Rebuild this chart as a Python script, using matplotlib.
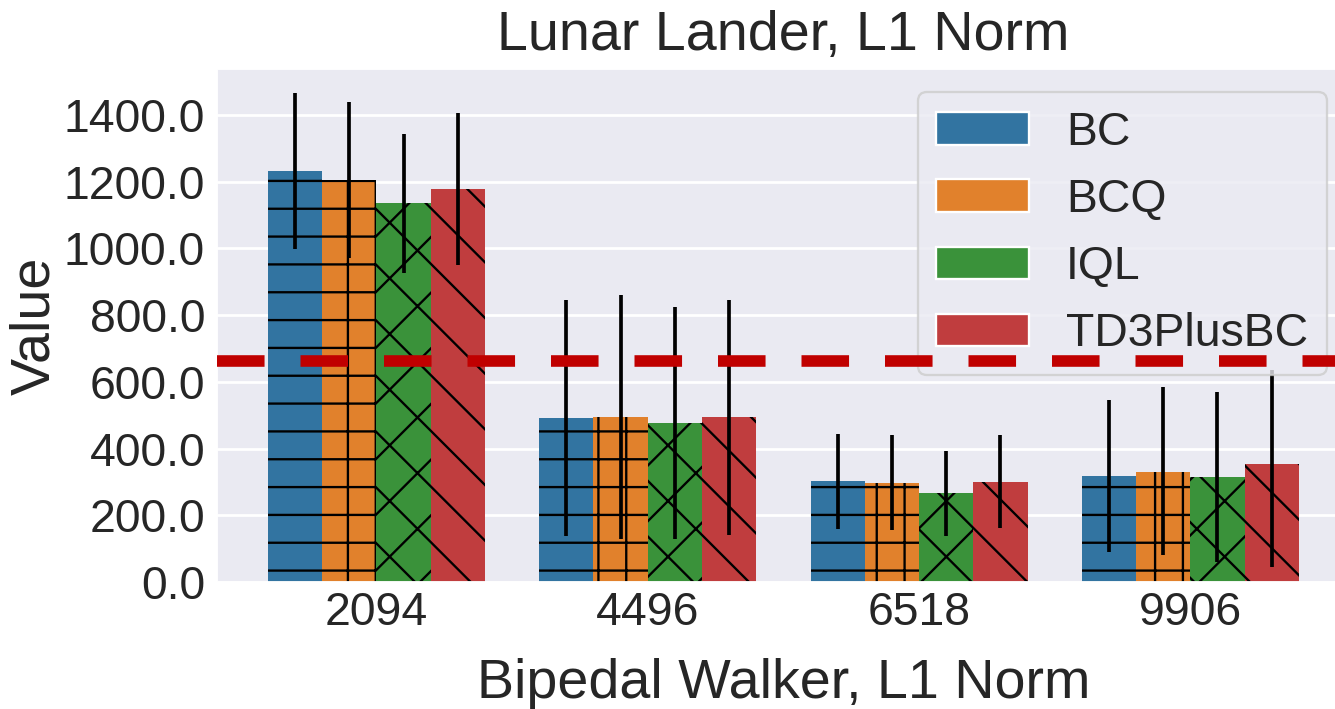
import numpy as np
import matplotlib
matplotlib.use("Agg")
import matplotlib.pyplot as plt
import seaborn as sns
from matplotlib.patches import Patch

# data
seeds = ["2094", "4496", "6518", "9906"]
algos = ["BC", "BCQ", "IQL", "TD3PlusBC"]
colors = ["#3274a1", "#e1812c", "#3a923a", "#c03d3e"]
hatches = ["-", "+", "x", "\\"]

bc_mean = [1232, 491, 302, 318]
bcq_mean = [1205, 495, 298, 331]
iql_mean = [1135, 477, 266, 315]
td3_mean = [1178, 495, 300, 354]

bc_lo = [997, 138, 160, 91]
bc_hi = [1466, 845, 444, 545]
bcq_lo = [970, 129, 156, 81]
bcq_hi = [1440, 860, 440, 584]
iql_lo = [927, 129, 139, 61]
iql_hi = [1343, 825, 394, 570]
td3_lo = [951, 141, 161, 44]
td3_hi = [1406, 845, 440, 637]

threshold = 664

means = [bc_mean, bcq_mean, iql_mean, td3_mean]
lows = [bc_lo, bcq_lo, iql_lo, td3_lo]
highs = [bc_hi, bcq_hi, iql_hi, td3_hi]

sns.set_style("darkgrid")
plt.rcParams['font.family'] = ['Liberation Sans', 'DejaVu Sans']
plt.rcParams['hatch.linewidth'] = 1.0

dpi = 167
fig = plt.figure(figsize=(1335 / dpi, 709 / dpi), dpi=dpi)
# axes runs a little past the right edge of the picture, as in the reference
ax = fig.add_axes([0.1623, 0.1791, 0.849, 0.7236])

x = np.arange(len(seeds))
w = 0.2
for i, name in enumerate(algos):
    pos = x - 0.3 + i * w
    ax.bar(pos, means[i], width=w, color=colors[i], edgecolor="black",
           linewidth=0, hatch=hatches[i], zorder=2)
    ax.vlines(pos, lows[i], highs[i], color="black", linewidth=1.6, zorder=3)

ax.axhline(threshold, color="#c00000", linewidth=5, dashes=(4.1, 3.1), zorder=6)

ax.set_xlim(-0.589, 3.589)
ax.set_ylim(0, 1538)
ax.set_xticks(x)
ax.set_xticklabels(seeds)
ax.set_yticks(np.arange(0, 1401, 200))
ax.set_yticklabels([f"{v:.1f}" for v in np.arange(0, 1401, 200)])
ax.tick_params(axis="x", labelsize=20, pad=0.5)
ax.tick_params(axis="y", labelsize=20, pad=1.5)
ax.grid(axis="x", visible=False)
ax.grid(axis="y", color="white", linewidth=1.2)

ax.set_title("Lunar Lander, L1 Norm", fontsize=24, pad=8)
ax.set_xlabel("Bipedal Walker, L1 Norm", fontsize=24, labelpad=10)
ax.set_ylabel("Value", fontsize=24, labelpad=1)

handles = [Patch(facecolor=c, label=a) for c, a in zip(colors, algos)]
ax.legend(handles=handles, loc="upper right", fontsize=20, frameon=True,
          handlelength=2.0)

fig.savefig("out.png", dpi=dpi)
